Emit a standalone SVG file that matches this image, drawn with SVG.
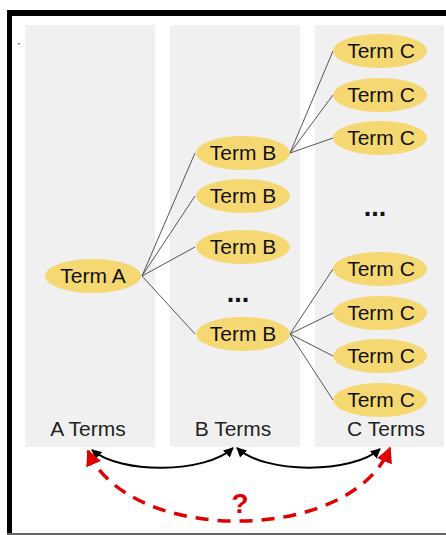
<svg xmlns="http://www.w3.org/2000/svg" width="446" height="535" viewBox="0 0 446 535">
<style>
.col{fill:#f0f0f0}
.node ellipse{fill:#f6d873}
.t{font-family:"Liberation Sans",Arial,sans-serif;font-size:21px;fill:#111;text-anchor:middle}
.lbl{font-family:"Liberation Sans",Arial,sans-serif;font-size:21px;fill:#222;text-anchor:middle}
.edge{stroke:#555;stroke-width:1;fill:none}
.dots{font-family:"Liberation Sans",Arial,sans-serif;font-size:27px;font-weight:bold;fill:#111;text-anchor:middle}
</style>
<defs>
<marker id="ab" viewBox="0 0 10 10" refX="9" refY="5" markerWidth="10" markerHeight="10" markerUnits="userSpaceOnUse" orient="auto-start-reverse">
<path d="M0,0 L10,5 L0,10 z" fill="#000"/>
</marker>
<marker id="ar" viewBox="0 0 10 10" refX="9" refY="5" markerWidth="16" markerHeight="16" markerUnits="userSpaceOnUse" orient="auto-start-reverse">
<path d="M0,0 L10,5 L0,10 z" fill="#e00000"/>
</marker>
</defs>
<rect x="0" y="0" width="446" height="535" fill="#fff"/>
<rect x="7" y="10" width="439" height="6" fill="#000"/>
<rect x="7" y="10" width="5" height="523" fill="#000"/>
<rect x="7" y="533" width="439" height="2" fill="#666"/>
<rect x="18" y="43" width="1.5" height="1.5" fill="#555"/>
<g id="columns">
<rect class="col" x="25" y="25" width="130" height="422"/>
<rect class="col" x="170" y="25" width="130" height="422"/>
<rect class="col" x="315" y="25" width="129" height="422"/>
<text class="lbl" x="88" y="436">A Terms</text>
<text class="lbl" x="233" y="436">B Terms</text>
<text class="lbl" x="386" y="436">C Terms</text>
</g>
<g id="connectors">
<path class="edge" d="M142,276 L195,153 M142,276 L195,196 M142,276 L195,247 M142,276 L195,334"/>
<path class="edge" d="M290,153 L333,51 M290,153 L333,95 M290,153 L333,138"/>
<path class="edge" d="M290,334 L333,269 M290,334 L333,313 M290,334 L333,356 M290,334 L333,400"/>
<path d="M92,450 C120,474 205,474 233,448" fill="none" stroke="#000" stroke-width="2" marker-start="url(#ab)" marker-end="url(#ab)"/>
<path d="M237,448 C265,474 352,474 380,449" fill="none" stroke="#000" stroke-width="2" marker-start="url(#ab)" marker-end="url(#ab)"/>
<path d="M88,451 C128,545 350,545 390,448" fill="none" stroke="#e00000" stroke-width="3.5" stroke-dasharray="13,9" marker-start="url(#ar)" marker-end="url(#ar)"/>
<text x="240" y="513" font-family="Liberation Sans,Arial,sans-serif" font-size="28" font-weight="bold" fill="#e00000" text-anchor="middle">?</text>
</g>
<g id="termA" class="node"><ellipse cx="93" cy="276" rx="48" ry="17"/><text class="t" x="93" y="283">Term A</text></g>
<g id="termB1" class="node"><ellipse cx="243" cy="153" rx="47" ry="17"/><text class="t" x="243" y="160">Term B</text></g>
<g id="termB2" class="node"><ellipse cx="243" cy="196" rx="47" ry="17"/><text class="t" x="243" y="203">Term B</text></g>
<g id="termB3" class="node"><ellipse cx="243" cy="247" rx="47" ry="17"/><text class="t" x="243" y="254">Term B</text></g>
<g id="termB4" class="node"><ellipse cx="243" cy="334" rx="47" ry="17"/><text class="t" x="243" y="341">Term B</text></g>
<g id="termC1" class="node"><ellipse cx="380" cy="51" rx="47" ry="17"/><text class="t" x="381" y="58">Term C</text></g>
<g id="termC2" class="node"><ellipse cx="380" cy="95" rx="47" ry="17"/><text class="t" x="381" y="102">Term C</text></g>
<g id="termC3" class="node"><ellipse cx="380" cy="138" rx="47" ry="17"/><text class="t" x="381" y="145">Term C</text></g>
<g id="termC4" class="node"><ellipse cx="380" cy="269" rx="47" ry="17"/><text class="t" x="381" y="276">Term C</text></g>
<g id="termC5" class="node"><ellipse cx="380" cy="313" rx="47" ry="17"/><text class="t" x="381" y="320">Term C</text></g>
<g id="termC6" class="node"><ellipse cx="380" cy="356" rx="47" ry="17"/><text class="t" x="381" y="363">Term C</text></g>
<g id="termC7" class="node"><ellipse cx="380" cy="400" rx="47" ry="17"/><text class="t" x="381" y="407">Term C</text></g>
<g id="dotsB"><text class="dots" x="238" y="302">...</text></g>
<g id="dotsC"><text class="dots" x="375" y="216">...</text></g>
</svg>
